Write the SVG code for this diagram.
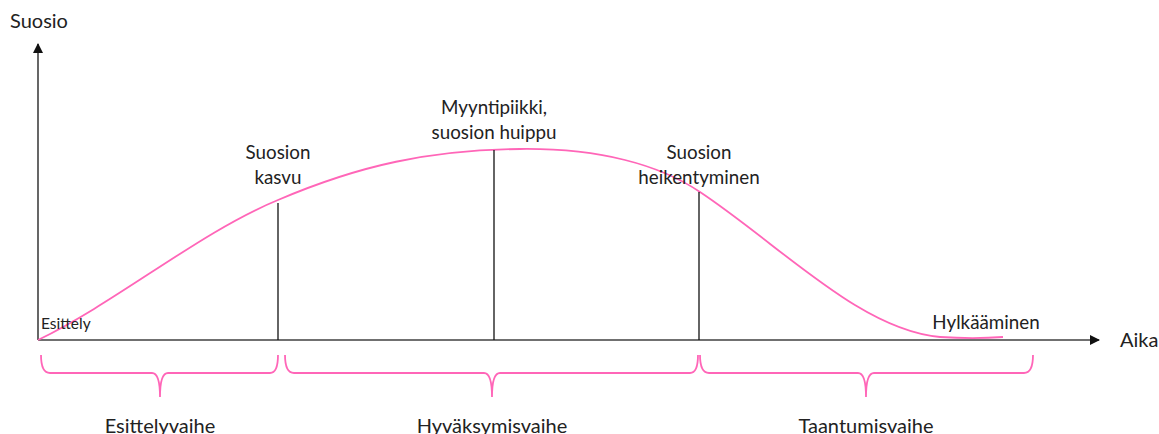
<svg xmlns="http://www.w3.org/2000/svg" width="1159" height="434" viewBox="0 0 1159 434">
<style>
text{font-family:Lato,"Open Sans","Liberation Sans",sans-serif;fill:#222;}
.lbl{font-size:18.8px;text-anchor:middle;}
.ph{font-size:20px;text-anchor:middle;}
.axis{stroke:#404040;stroke-width:1.6;fill:none;}
.mark{stroke:#111;stroke-width:1.3;}
.pink{stroke:#ff66b8;stroke-width:1.8;fill:none;}
</style>
<defs>
<marker id="arr" viewBox="0 0 10 10" refX="9" refY="5" markerWidth="10" markerHeight="10" markerUnits="userSpaceOnUse" orient="auto">
<path d="M0,0 L10,5 L0,10 z" fill="#111"/>
</marker>
</defs>
<g id="connectors">
<line class="axis" x1="38" y1="340" x2="38" y2="44" marker-end="url(#arr)"/>
<line class="axis" x1="38" y1="340" x2="1099" y2="340" marker-end="url(#arr)"/>
<path class="pink" d="M38,340 C120,300 200,232 278,200 C360,165 430,150 520,149 C600,148 660,165 700,192 C780,245 860,330 940,337 C970,339 990,338 1003,337"/>
<line class="mark" x1="278" y1="203" x2="278" y2="340"/>
<line class="mark" x1="494" y1="150" x2="494" y2="340"/>
<line class="mark" x1="699" y1="192" x2="699" y2="340"/>
<path class="pink" d="M41,355 Q41,373 50,373 L152,373 Q160,373 160,397 Q160,373 168,373 L270,373 Q278,373 278,355"/>
<path class="pink" d="M285,355 Q285,373 294,373 L484,373 Q492,373 492,397 Q492,373 500,373 L690,373 Q698,373 698,355"/>
<path class="pink" d="M700,355 Q700,373 709,373 L858,373 Q866,373 866,397 Q866,373 874,373 L1024,373 Q1033,373 1033,355"/>
</g>
<g id="axis-labels">
<text x="10" y="28" style="font-size:20px">Suosio</text>
<text x="1120" y="347" style="font-size:20px">Aika</text>
</g>
<g id="esittely"><text x="41" y="329" style="font-size:15.5px">Esittely</text></g>
<g id="kasvu"><text class="lbl" x="278" y="159">Suosion</text><text class="lbl" x="278" y="184">kasvu</text></g>
<g id="huippu"><text class="lbl" x="494" y="114">Myyntipiikki,</text><text class="lbl" x="494" y="139">suosion huippu</text></g>
<g id="heikentyminen"><text class="lbl" x="699" y="159">Suosion</text><text class="lbl" x="699" y="184">heikentyminen</text></g>
<g id="hylkaaminen"><text x="986" y="329" class="lbl">Hylkääminen</text></g>
<g id="esittelyvaihe"><text class="ph" x="160" y="433">Esittelyvaihe</text></g>
<g id="hyvaksymisvaihe"><text class="ph" x="492" y="433">Hyväksymisvaihe</text></g>
<g id="taantumisvaihe"><text class="ph" x="866" y="433">Taantumisvaihe</text></g>
</svg>
